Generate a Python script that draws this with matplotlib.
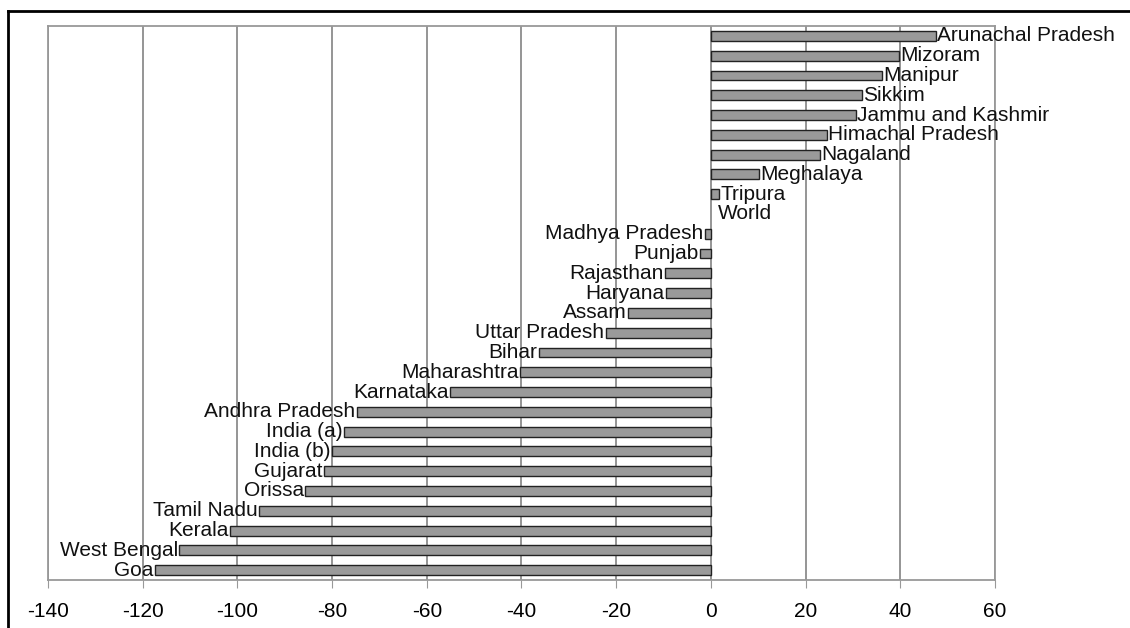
import matplotlib
matplotlib.use("Agg")
import matplotlib.pyplot as plt
from matplotlib.lines import Line2D

plt.rcParams['font.family'] = ['Liberation Sans', 'DejaVu Sans']

# states, top to bottom
states = ["Arunachal Pradesh", "Mizoram", "Manipur", "Sikkim", "Jammu and Kashmir",
          "Himachal Pradesh", "Nagaland", "Meghalaya", "Tripura", "World",
          "Madhya Pradesh", "Punjab", "Rajasthan", "Haryana", "Assam",
          "Uttar Pradesh", "Bihar", "Maharashtra", "Karnataka", "Andhra Pradesh",
          "India (a)", "India (b)", "Gujarat", "Orissa", "Tamil Nadu", "Kerala",
          "West Bengal", "Goa"]
values = [47.5, 39.7, 36.1, 31.9, 30.6, 24.5, 23.1, 10.1, 1.8, 0.0,
          -1.3, -2.3, -9.7, -9.5, -17.5, -22.2, -36.3, -40.3, -55.0, -74.8,
          -77.4, -80.1, -81.7, -85.7, -95.4, -101.6, -112.3, -117.4]
xticks = list(range(-140, 61, 20))

fig = plt.figure(figsize=(11.3, 6.28), dpi=100)
ax = fig.add_axes([0.0425, 0.0764, 0.838, 0.8822])

ypos = list(range(len(states)))[::-1]
lws = [1.0 if v != 0 else 0.0 for v in values]
ax.barh(ypos, values, height=0.5, color="#9a9a9a", edgecolor="#222222",
        linewidth=lws, zorder=3)

fs = 15
for y, v, name in zip(ypos, values, states):
    if v > 0:
        ax.text(v + 0.3, y, name, ha="left", va="center", fontsize=fs, color="#111111", zorder=4)
    elif v < 0:
        ax.text(v - 0.3, y, name, ha="right", va="center", fontsize=fs, color="#111111", zorder=4)
    else:
        ax.text(1.5, y, name, ha="left", va="center", fontsize=fs, color="#111111", zorder=4)

ax.set_xlim(-140, 60)
ax.set_ylim(-0.5, len(states) - 0.5)
ax.set_xticks(xticks)
ax.set_xticklabels([str(t) for t in xticks], fontsize=fs)
ax.set_yticks([])
ax.tick_params(axis="x", length=6, color="#999999", pad=10)
ax.grid(axis="x", color="#8c8c8c", linewidth=1.3, zorder=0)
for s in ax.spines.values():
    s.set_color("#999999")
    s.set_linewidth(1.3)

# outer frame (top and left only visible)
fig.add_artist(Line2D([8 / 1130, 1.0], [1 - 11 / 628, 1 - 11 / 628],
                      transform=fig.transFigure, color="black", linewidth=2))
fig.add_artist(Line2D([8 / 1130, 8 / 1130], [0.0, 1 - 11 / 628],
                      transform=fig.transFigure, color="black", linewidth=2))

fig.savefig("out.png", dpi=100)
